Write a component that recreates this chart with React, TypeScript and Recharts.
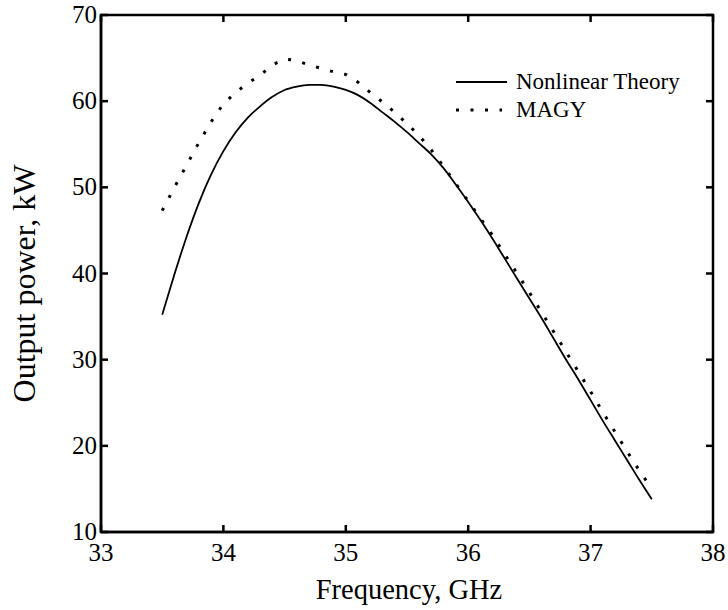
import { LineChart, Line, XAxis, YAxis, Legend, ReferenceArea } from 'recharts';

const FONT = '"Liberation Serif", "Times New Roman", Times, serif';

// frequency grid, GHz
const FREQ = [
  33.5, 33.6, 33.7, 33.8, 33.9, 34.0, 34.1, 34.2, 34.3, 34.4, 34.5, 34.6, 34.7, 34.8,
  34.9, 35.0, 35.1, 35.2, 35.3, 35.4, 35.5, 35.6, 35.7, 35.8, 35.9, 36.0, 36.1, 36.2,
  36.3, 36.4, 36.5, 36.6, 36.7, 36.8, 36.9, 37.0, 37.1, 37.2, 37.3, 37.4, 37.5,
];

// output power, kW
const NONLINEAR = [
  35.2, 39.9, 44.3, 48.2, 51.5, 54.2, 56.4, 58.1, 59.4, 60.5, 61.3, 61.7, 61.9, 61.9,
  61.7, 61.3, 60.7, 59.8, 58.7, 57.6, 56.4, 55.1, 53.8, 52.2, 50.3, 48.3, 46.2, 44.0,
  41.7, 39.4, 37.1, 34.8, 32.4, 30.0, 27.7, 25.3, 22.9, 20.6, 18.3, 16.0, 13.8,
];

const MAGY = [
  47.3, 50.0, 52.6, 55.2, 57.6, 59.7, 61.0, 62.1, 63.0, 64.2, 64.9, 64.7, 64.2, 63.8,
  63.4, 63.1, 62.2, 61.0, 59.9, 58.7, 57.4, 56.0, 54.3, 52.4, 50.4, 48.4, 46.4, 44.4,
  42.2, 40.0, 37.8, 35.5, 33.2, 30.9, 28.6, 26.3, 23.9, 21.6, 19.3, 17.1, 15.0,
];

const X_TICKS = [33, 34, 35, 36, 37, 38];
const Y_TICKS = [10, 20, 30, 40, 50, 60, 70];

const SERIES = [
  { key: 'nonlinear', name: 'Nonlinear Theory', dash: undefined as string | undefined, width: 1.8 },
  { key: 'magy', name: 'MAGY', dash: '3 11.5', width: 3 },
];

const data = FREQ.map((f, i) => ({ f, nonlinear: NONLINEAR[i], magy: MAGY[i] }));

const W = 728;
const H = 610;
const MARGIN = { top: 15, right: 15, bottom: 0, left: 0 };
const TICK_LEN = 7;
const FRAME = 2.5;

// bottom ticks also draw the matching inward tick on the top frame edge
const bottomTick = (p: any) => {
  const { x, y, payload } = p;
  const top = MARGIN.top;
  return (
    <g>
      <line x1={x} x2={x} y1={y} y2={y - TICK_LEN} stroke="#000" strokeWidth={FRAME} />
      <line x1={x} x2={x} y1={top} y2={top + TICK_LEN} stroke="#000" strokeWidth={FRAME} />
      <text x={x} y={y + 29} textAnchor="middle" fill="#000" fontSize={25} fontFamily="Liberation Serif">
        {payload.value}
      </text>
    </g>
  );
};

// left ticks also draw the matching inward tick on the right frame edge
const leftTick = (p: any) => {
  const { x, y, payload } = p;
  const right = W - MARGIN.right;
  return (
    <g>
      <line x1={x} x2={x + TICK_LEN} y1={y} y2={y} stroke="#000" strokeWidth={FRAME} />
      <line x1={right} x2={right - TICK_LEN} y1={y} y2={y} stroke="#000" strokeWidth={FRAME} />
      <text x={x - 4} y={y + 8} textAnchor="end" fill="#000" fontSize={25} fontFamily="Liberation Serif">
        {payload.value}
      </text>
    </g>
  );
};

const xTitle = (p: any) => {
  const vb = p.viewBox;
  return (
    <text x={vb.x + vb.width / 2 + 2} y={vb.y + 67} textAnchor="middle" fill="#000" fontSize={28.5} fontFamily="Liberation Serif">
      Frequency, GHz
    </text>
  );
};

const yTitle = (p: any) => {
  const vb = p.viewBox;
  const cx = vb.x + 35;
  const cy = vb.y + vb.height / 2 + 10;
  return (
    <text x={cx} y={cy} transform={`rotate(-90, ${cx}, ${cy})`} textAnchor="middle" fill="#000" fontSize={32} fontFamily="Liberation Serif">
      Output power, kW
    </text>
  );
};

function renderLegend() {
  return (
    <div style={{ fontFamily: FONT, fontSize: 23, color: '#000' }}>
      {SERIES.map((s) => (
        <div key={s.key} style={{ display: 'flex', alignItems: 'center', height: 28 }}>
          <svg width={64} height={10} style={{ display: 'block' }}>
            <line x1={4} x2={s.dash ? 50 : 55} y1={5} y2={5} stroke="#000" strokeWidth={s.dash ? 3 : 2} strokeDasharray={s.dash} />
          </svg>
          <span style={{ lineHeight: '28px' }}>{s.name}</span>
        </div>
      ))}
    </div>
  );
}

export default function App() {
  return (
    <div style={{ position: 'absolute', left: 0, top: 0, width: W, height: H, background: '#fff' }}>
      <LineChart width={W} height={H} data={data} margin={MARGIN}>
        <XAxis dataKey="f" type="number" domain={[33, 38]} ticks={X_TICKS} height={78}
          axisLine={{ stroke: '#000', strokeWidth: FRAME }} tickLine={false} tickSize={0} tickMargin={0}
          tick={bottomTick} label={{ content: xTitle }} />
        <YAxis type="number" domain={[10, 70]} ticks={Y_TICKS} width={101}
          axisLine={{ stroke: '#000', strokeWidth: FRAME }} tickLine={false} tickSize={0} tickMargin={0}
          tick={leftTick} label={{ content: yTitle }} />
        {/* closes the box on the top and right sides */}
        <ReferenceArea x1={33} x2={38} y1={10} y2={70} fill="none" fillOpacity={0} stroke="#000"
          strokeWidth={FRAME} strokeOpacity={1} ifOverflow="visible" />
        <Legend layout="vertical" align="center" verticalAlign="middle"
          wrapperStyle={{ left: 452, top: 68, width: 260 }} content={renderLegend} />
        {SERIES.map((s) => (
          <Line key={s.key} name={s.name} dataKey={s.key} type={s.dash ? 'linear' : 'monotone'}
            stroke="#000" strokeWidth={s.width} strokeDasharray={s.dash} dot={false} activeDot={false}
            isAnimationActive={false} />
        ))}
      </LineChart>
    </div>
  );
}
